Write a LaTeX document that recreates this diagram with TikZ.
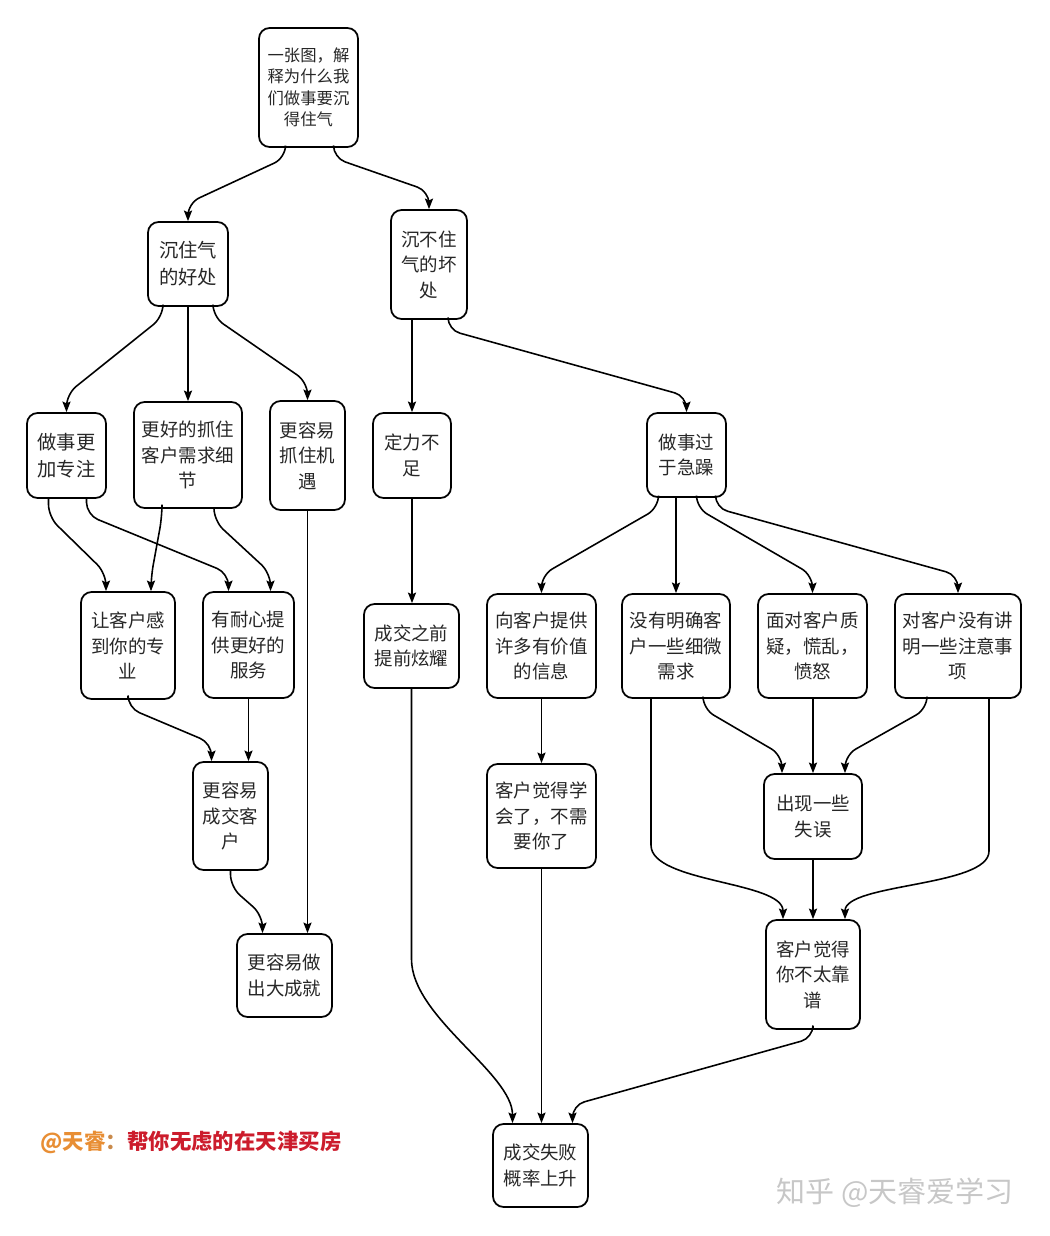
\documentclass[tikz,border=0pt]{standalone}
\usepackage{fontspec}
\setmainfont{Noto Sans CJK SC}
\usetikzlibrary{arrows.meta,calc}
\definecolor{wmorange}{RGB}{232,142,52}
\definecolor{wmred}{RGB}{204,28,44}
\tikzset{
  box/.style={draw, line width=1pt, rounded corners=6pt, align=center, inner sep=1pt,
    text=black!85, font=\fontsize{10.5}{14.5}\selectfont},
  link/.style={draw, line width=0.9pt, rounded corners=7pt,
    -{Stealth[length=6pt,width=4.6pt,inset=1pt]}},
}
\begin{document}
\begin{tikzpicture}[x=0.02cm, y=-0.02cm]
    \useasboundingbox (0,0) rectangle (1049,1236);
    % title
    \node[box, minimum width=1.98cm, minimum height=2.38cm, font=\fontsize{9.3}{12.2}\selectfont] (top) at (308.5,87.5) {一张图，解\\释为什么我\\们做事要沉\\得住气};
    \node[box, minimum width=1.6cm, minimum height=1.68cm, font=\fontsize{11}{15.3}\selectfont] (hao) at (188,264) {沉住气\\的好处};
    \node[box, minimum width=1.52cm, minimum height=2.18cm] (huai) at (429,264.5) {沉不住\\气的坏\\处};
    % good side
    \node[box, minimum width=1.58cm, minimum height=1.7cm, font=\fontsize{11}{15.3}\selectfont] (zhuanzhu) at (66.5,455.5) {做事更\\加专注};
    \node[box, minimum width=2.16cm, minimum height=2.12cm] (xuqiu) at (188,455) {更好的抓住\\客户需求细\\节};
    \node[box, minimum width=1.5cm, minimum height=2.18cm] (jiyu) at (307.5,455.5) {更容易\\抓住机\\遇};
    \node[box, minimum width=1.88cm, minimum height=2.14cm] (zhuanye) at (128,645.5) {让客户感\\到你的专\\业};
    \node[box, minimum width=1.82cm, minimum height=2.12cm] (naixin) at (248.5,645) {有耐心提\\供更好的\\服务};
    \node[box, minimum width=1.5cm, minimum height=2.16cm] (chengjiao) at (230.5,816) {更容易\\成交客\\户};
    \node[box, minimum width=1.9cm, minimum height=1.66cm] (dachengjiu) at (284.5,975.5) {更容易做\\出大成就};
    % bad side
    \node[box, minimum width=1.56cm, minimum height=1.7cm] (dingli) at (412,455.5) {定力不\\足};
    \node[box, minimum width=1.58cm, minimum height=1.68cm] (jizao) at (686.5,455) {做事过\\于急躁};
    \node[box, minimum width=1.9cm, minimum height=1.68cm] (xuanyao) at (411.5,646) {成交之前\\提前炫耀};
    \node[box, minimum width=2.18cm, minimum height=2.08cm] (xinxi) at (541.5,646) {向客户提供\\许多有价值\\的信息};
    \node[box, minimum width=2.16cm, minimum height=2.08cm] (xiwei) at (676,646) {没有明确客\\户一些细微\\需求};
    \node[box, minimum width=2.18cm, minimum height=2.08cm] (zhiyi) at (812.5,646) {面对客户质\\疑，慌乱，\\愤怒};
    \node[box, minimum width=2.52cm, minimum height=2.08cm] (zhuyi) at (958,646) {对客户没有讲\\明一些注意事\\项};
    \node[box, minimum width=2.18cm, minimum height=2.08cm] (xuehui) at (541.5,816) {客户觉得学\\会了，不需\\要你了};
    \node[box, minimum width=1.96cm, minimum height=1.7cm] (shiwu) at (813,816.5) {出现一些\\失误};
    \node[box, minimum width=1.88cm, minimum height=2.18cm] (kaopu) at (813,974.5) {客户觉得\\你不太靠\\谱};
    \node[box, minimum width=1.9cm, minimum height=1.66cm] (shibai) at (540.5,1165.5) {成交失败\\概率上升};
    % watermarks
    \node[font=\fontsize{12.2}{14}\selectfont\bfseries, inner sep=0] (sign) at (191,1142) {\textcolor{wmorange}{@天睿}\textcolor{wmorange!70!gray}{：}\textcolor{wmred}{帮你无虑的在天津买房}};
    \node[font=\fontsize{16.5}{18}\selectfont, text=black!22, inner sep=0] (zhihu) at (895,1193) {知乎 @天睿爱学习};

    % links from the title
    \draw[link] ($(top.south)+(-23,0)$) -- ++(0,10) -- ($(hao.north)+(0,-18)$) -- (hao.north);
    \draw[link] ($(top.south)+(25,0)$) -- ++(0,10) -- ($(huai.north)+(0,-18)$) -- (huai.north);
    % good side
    \draw[link] ($(hao.south)+(-25,0)$) -- ++(0,10) -- ($(zhuanzhu.north)+(0,-18)$) -- (zhuanzhu.north);
    \draw[link] (hao.south) -- (xuqiu.north);
    \draw[link] ($(hao.south)+(25,0)$) -- ++(0,10) -- ($(jiyu.north)+(0,-18)$) -- (jiyu.north);
    \draw[link] ($(zhuanzhu.south)+(-18,0)$) -- ++(0,18) -- ($(zhuanye.north)+(-22,-18)$) -- ($(zhuanye.north)+(-22,0)$);
    \draw[link] ($(zhuanzhu.south)+(20,0)$) -- ++(0,16) -- ($(naixin.north)+(-20,-18)$) -- ($(naixin.north)+(-20,0)$);
    \draw[link] ($(xuqiu.south)+(-26,0)$) -- ++(0,8) -- ($(zhuanye.north)+(23,-14)$) -- ($(zhuanye.north)+(23,0)$);
    \draw[link] ($(xuqiu.south)+(26,0)$) -- ++(0,12) -- ($(naixin.north)+(22,-18)$) -- ($(naixin.north)+(22,0)$);
    \draw[link] (jiyu.south) -- (dachengjiu.north -| jiyu.south);
    \draw[link] (zhuanye.south) -- ++(0,8) -- ($(chengjiao.north)+(-19,-18)$) -- ($(chengjiao.north)+(-19,0)$);
    \draw[link] (naixin.south) -- (chengjiao.north -| naixin.south);
    \draw[link] (chengjiao.south) -- ++(0,16) -- ($(dachengjiu.north)+(-22,-18)$) -- ($(dachengjiu.north)+(-22,0)$);
    % bad side
    \draw[link] ($(huai.south)+(-17,0)$) -- (dingli.north);
    \draw[link] ($(huai.south)+(19,0)$) -- ++(0,10) -- ($(jizao.north)+(0,-16)$) -- (jizao.north);
    \draw[link] (dingli.south) -- (xuanyao.north -| dingli.south);
    \draw[link] (xuanyao.south) -- ++(0,258) .. controls +(0,70) and +(0,-50) .. ($(shibai.north)+(-28,0)$);
    \draw[link] ($(jizao.south)+(-28,0)$) -- ++(0,10) -- ($(xinxi.north)+(0,-18)$) -- (xinxi.north);
    \draw[link] (jizao.south -| xiwei.north) -- (xiwei.north);
    \draw[link] ($(jizao.south)+(10,0)$) -- ++(0,10) -- ($(zhiyi.north)+(0,-18)$) -- (zhiyi.north);
    \draw[link] ($(jizao.south)+(29,0)$) -- ++(0,10) -- ($(zhuyi.north)+(0,-18)$) -- (zhuyi.north);
    \draw[link] (xinxi.south) -- (xuehui.north);
    \draw[link] ($(xiwei.south)+(27,0)$) -- ++(0,10) -- ($(shiwu.north)+(-31,-18)$) -- ($(shiwu.north)+(-31,0)$);
    \draw[link] (zhiyi.south -| shiwu.north) -- (shiwu.north);
    \draw[link] ($(zhuyi.south)+(-31,0)$) -- ++(0,10) -- ($(shiwu.north)+(32,-18)$) -- ($(shiwu.north)+(32,0)$);
    \draw[link] ($(xiwei.south)+(-25,0)$) -- ++(0,134) .. controls +(0,50) and +(0,-38) .. ($(kaopu.north)+(-30,0)$);
    \draw[link] ($(zhuyi.south)+(31,0)$) -- ++(0,140) .. controls +(0,48) and +(0,-36) .. ($(kaopu.north)+(32,0)$);
    \draw[link] (shiwu.south) -- (kaopu.north);
    \draw[link] (xuehui.south) -- (shibai.north -| xuehui.south);
    \draw[link] (kaopu.south) -- ++(0,8) -- ($(shibai.north)+(32,-18)$) -- ($(shibai.north)+(32,0)$);
\end{tikzpicture}
\end{document}
